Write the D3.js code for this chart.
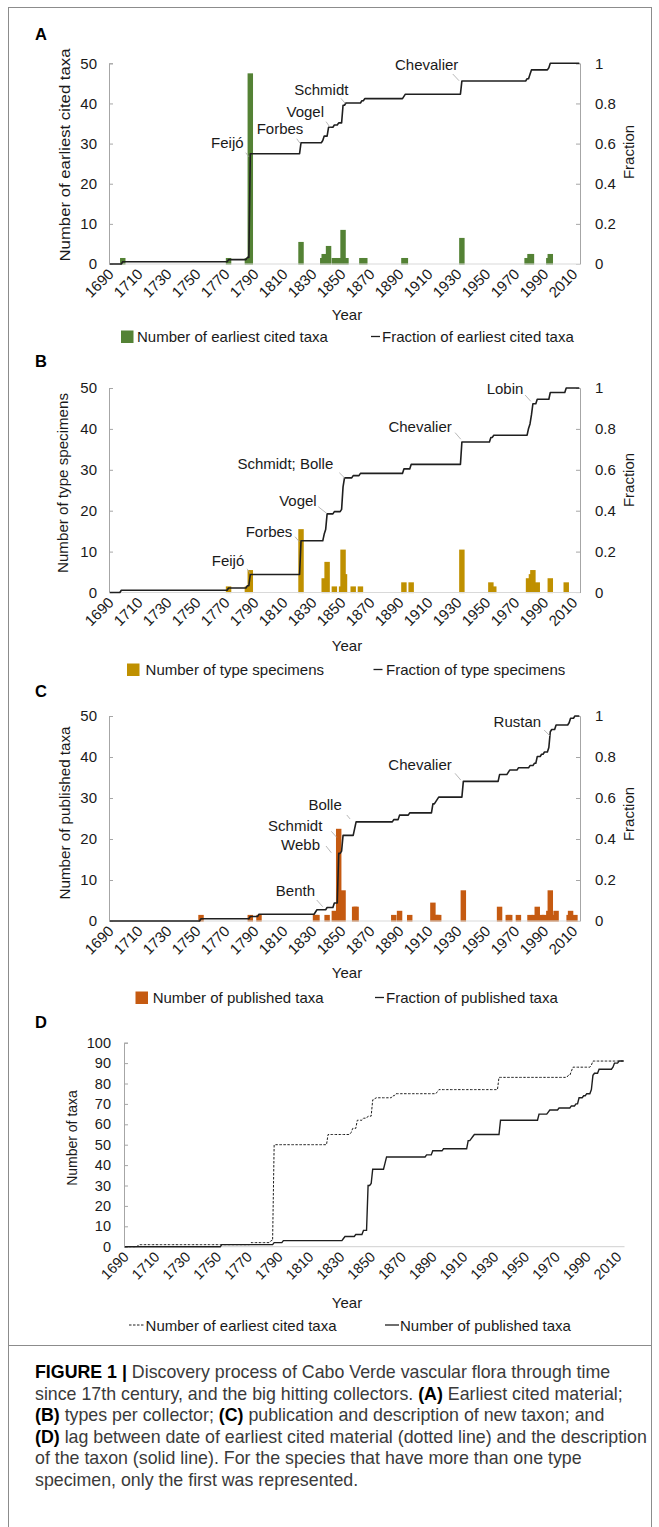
<!DOCTYPE html>
<html><head><meta charset="utf-8">
<script src="https://cdn.jsdelivr.net/npm/d3@7"></script>
<style>
body{margin:0;background:#fff;}
svg text{font-family:"Liberation Sans",Arial,sans-serif;fill:#1a1a1a;}
</style></head>
<body><svg id="fig" width="659" height="1527"></svg>
<script>
// ---------------- DATA ----------------
const firstYear = 1690, lastYear = 2014;
const xTickLabels = ["1690","1710","1730","1750","1770","1790","1810","1830","1850","1870","1890","1910","1930","1950","1970","1990","2010"];
const countTicks = [0,10,20,30,40,50];
const fractionTicks = [0,0.2,0.4,0.6,0.8,1];
const fractionTickLabels = ["0","0.2","0.4","0.6","0.8","1"];
const taxaTicks = [0,10,20,30,40,50,60,70,80,90,100];

// (A) earliest cited material, taxa per year
const earliestYears  = [1699,1772,1785,1787,1822,1837,1838,1841,1845,1848,1851,1853,1864,1866,1893,1894,1933,1978,1980,1981,1993,1994];
const earliestCounts = [1,   1,   1,   47,  5,   1,   2,   4,   1,   1,   8,   1,   1,   1,   1,   1,   6,   1,   2,   2,   1,   2];
// (B) type specimens per year (one early record shows in the fraction line only)
const typeYears  = [1772,1785,1787,1822,1838,1839,1840,1845,1850,1851,1852,1858,1863,1893,1898,1933,1953,1955,1979,1980,1981,1982,1985,1994,2005];
const typeCounts = [1,   1,   5,   15,  3,   2,   7,   1,   1,   10,  4,   1,   1,   2,   2,   10,  2,   1,   3,   2,   4,   5,   2,   3,   2];
const typeLineOnlyYears  = [1698];
const typeLineOnlyCounts = [1];
// (C) published taxa per year
const publishedYears  = [1753,1787,1793,1832,1833,1840,1845,1848,1850,1851,1859,1860,1886,1890,1897,1913,1915,1916,1917,1934,1959,1965,1966,1972,1980,1983,1985,1988,1990,1993,1994,1995,1998,2007,2008,2011];
const publishedCounts = [1,   1,   1,   1,   1,   1,   2,   22,  1,   7,   3,   3,   1,   2,   1,   4,   1,   1,   1,   7,   3,   1,   1,   1,   1,   1,   3,   1,   1,   2,   7,   1,   2,   1,   2,   1];

const earliestNotes  = ["Feijó","Forbes","Vogel","Schmidt","Chevalier"];
const earliestNoteYears = [1787,1822,1841,1853,1933];
const typeNotes  = ["Feijó","Forbes","Vogel","Schmidt; Bolle","Chevalier","Lobin"];
const typeNoteYears = [1787,1822,1840,1852,1933,1982];
const publishedNotes = ["Benth","Webb","Schmidt","Bolle","Chevalier","Rustan"];
const publishedNoteYears = [1837,1848,1848,1860,1934,1994];

const legendA = ["Number of earliest cited taxa","Fraction of earliest cited taxa"];
const legendB = ["Number of type specimens","Fraction of type specimens"];
const legendC = ["Number of published taxa","Fraction of published taxa"];
const legendD = ["Number of earliest cited taxa","Number of published taxa"];

// ---------------- LAYOUT ----------------
const svg = d3.select("#fig");
const C_GREEN="#548235", C_GOLD="#BF9000", C_ORANGE="#C55A11";
const AXIS="#a6a6a6", BASE="#d9d9d9", LINE="#1f1f1f";
const allYears = d3.range(firstYear, lastYear+1);

function cumulative(years, counts){
  const m = new Map();
  years.forEach((y,i)=>m.set(y,(m.get(y)||0)+counts[i]));
  let c=0; return allYears.map(y=>{c += (m.get(y)||0); return c;});
}

// frame
svg.append("rect").attr("x",8.5).attr("y",7.5).attr("width",643).attr("height",1530).attr("fill","none").attr("stroke","#8c8c8c").attr("stroke-width",1);
svg.append("line").attr("x1",8.5).attr("x2",651.5).attr("y1",1345.5).attr("y2",1345.5).attr("stroke","#8c8c8c");

function panel(cfg){
  const g = svg.append("g");
  const x = d3.scaleLinear().domain([firstYear-0.5,lastYear+0.5]).range([cfg.left,cfg.right]);
  const y = d3.scaleLinear().domain([0,50]).range([cfg.bottom,cfg.top]);
  const yf = d3.scaleLinear().domain([0,1]).range([cfg.bottom,cfg.top]);
  const bw = x(1)-x(0);
  g.append("text").attr("x",35).attr("y",cfg.letterY).attr("font-size",16.5).attr("font-weight","bold").style("fill","#000").text(cfg.letter);
  const la = d3.axisLeft(y).tickValues(countTicks).tickSize(-4).tickPadding(12);
  const lg = g.append("g").attr("transform",`translate(${cfg.left},0)`).call(la);
  lg.select(".domain").attr("stroke",AXIS);
  lg.selectAll(".tick line").attr("stroke",AXIS);
  lg.selectAll(".tick text").attr("font-size",15).style("fill","#1a1a1a");
  const ra = d3.axisRight(yf).tickValues(fractionTicks).tickFormat((d,i)=>fractionTickLabels[i]).tickSize(-4).tickPadding(15);
  const rg = g.append("g").attr("transform",`translate(${cfg.right},0)`).call(ra);
  rg.select(".domain").attr("stroke",AXIS);
  rg.selectAll(".tick line").attr("stroke",AXIS);
  rg.selectAll(".tick text").attr("font-size",15).style("fill","#1a1a1a");
  // bars: one-year columns with a thick outline of the same colour
  g.append("g").selectAll("rect").data(cfg.years.map((yr,i)=>({yr,c:cfg.counts[i]}))).join("rect")
    .attr("x",d=>x(d.yr)-bw/2).attr("width",bw)
    .attr("y",d=>y(d.c)).attr("height",d=>y(0)-y(d.c))
    .attr("fill",cfg.color).attr("stroke",cfg.color).attr("stroke-width",4);
  g.append("rect").attr("x",cfg.left-5).attr("y",y(0)+0.6).attr("width",cfg.right-cfg.left+10).attr("height",3).attr("fill","#fff");
  g.append("line").attr("x1",cfg.left).attr("x2",cfg.right).attr("y1",y(0)).attr("y2",y(0)).attr("stroke",BASE).attr("stroke-width",1.2);
  // cumulative fraction line
  const cum = cumulative(cfg.years.concat(cfg.extraYears||[]), cfg.counts.concat(cfg.extraCounts||[]));
  const total = cum[cum.length-1];
  const line = d3.line().x((d,i)=>x(allYears[i])).y(d=>yf(d/total));
  g.append("path").attr("d",line(cum)).attr("fill","none").attr("stroke",LINE).attr("stroke-width",1.6).attr("stroke-linejoin","round");
  xTickLabels.forEach(t=>{
    g.append("text").attr("transform",`translate(${x(+t)+5},${y(0)+11}) rotate(-45)`)
      .attr("text-anchor","end").attr("font-size",15).text(t);
  });
  g.append("text").attr("x",347).attr("y",cfg.yearY).attr("text-anchor","middle").attr("font-size",15).text("Year");
  g.append("text").attr("transform",`translate(${cfg.titleX},${cfg.titleCY}) rotate(-90)`).attr("text-anchor","middle")
    .attr("font-size",15).attr("textLength",cfg.titleLen).attr("lengthAdjust","spacingAndGlyphs").text(cfg.title);
  g.append("text").attr("transform",`translate(634,${cfg.fracCY}) rotate(-90)`).attr("text-anchor","middle").attr("font-size",15).text("Fraction");
  cfg.notes.forEach((n,i)=>{
    const yr = cfg.noteYears[i];
    const px = x(yr), py = yf(cum[yr-firstYear]/total);
    const o = cfg.noteOff[i];
    g.append("line").attr("x1",px+o[2]).attr("y1",py+o[3]).attr("x2",px+o[4]).attr("y2",py+o[5]).attr("stroke","#a6a6a6").attr("stroke-width",0.8);
    g.append("text").attr("x",px+o[0]).attr("y",py+o[1]).attr("text-anchor","end").attr("font-size",15).text(n);
  });
  const ly = cfg.legendY;
  g.append("rect").attr("x",cfg.legX[0]).attr("y",ly-11.5).attr("width",12.5).attr("height",12.5).attr("fill",cfg.color);
  g.append("text").attr("x",cfg.legX[1]).attr("y",ly).attr("font-size",15).text(cfg.legend[0]);
  g.append("line").attr("x1",cfg.legX[2]).attr("x2",cfg.legX[2]+9).attr("y1",ly-5.5).attr("y2",ly-5.5).attr("stroke",LINE).attr("stroke-width",1.3);
  g.append("text").attr("x",cfg.legX[3]).attr("y",ly).attr("font-size",15).text(cfg.legend[1]);
}

panel({letter:"A",letterY:39.5,left:109,right:580,top:63.3,bottom:264,color:C_GREEN,
  years:earliestYears,counts:earliestCounts,yearY:320,title:"Number of earliest cited taxa",titleX:70,titleCY:155,titleLen:213,fracCY:152,
  notes:earliestNotes,noteYears:earliestNoteYears,
  noteOff:[[-6.7,-5.7,-4.5,-1,-1.5,3],[2.3,-8.7,-4.3,-4,-1,0.6],[-4.5,-10,-2.5,-5.6,1.5,0],[2.5,-7.7,-5.1,-4.7,-0.8,0.3],[-3.5,-10.9,-9.1,-6.9,-2.8,-0.2]],
  legendY:342,legX:[121,137,371,382],legend:legendA});
panel({letter:"B",letterY:367,left:109,right:580,top:388,bottom:592.5,color:C_GOLD,
  years:typeYears,counts:typeCounts,extraYears:typeLineOnlyYears,extraCounts:typeLineOnlyCounts,
  yearY:651,title:"Number of type specimens",titleX:68,titleCY:483,titleLen:180,fracCY:480,
  notes:typeNotes,noteYears:typeNoteYears,
  noteOff:[[-6,-8.5,-3.3,-5.8,0,-1.2],[-8.7,-4.1,-6,-4.1,-1.7,0.9],[-10.4,-7.8,-8.8,-7.1,-0.4,-0.5],[-11.2,-8.9,-5.2,-5.2,0.5,0.4],[-10.1,-10.3,-6.8,-9.3,-1.1,-2.7],[-9.5,-9.7,-7.8,-8.7,-2.1,-2.4]],
  legendY:675,legX:[127,145.6,373.5,386],legend:legendB});
panel({letter:"C",letterY:697,left:109,right:580,top:716,bottom:921,color:C_ORANGE,
  years:publishedYears,counts:publishedCounts,yearY:978,title:"Number of published taxa",titleX:70,titleCY:813,titleLen:173,fracCY:814,
  notes:publishedNotes,noteYears:publishedNoteYears,
  noteOff:[[-7.7,-13.7,-6,-9.7,0,-3],[-18.7,-3.4,-12.7,-7.4,-7.4,-0.7],[-16.4,-22.7,-7.4,-22.1,-2,-16.1],[-14.3,-11.9,-9.3,-6.9,-6,-2.9],[-11.6,-11.3,-8.3,-8,-2.6,-1.3],[-9.2,-5.1,-6.2,-1.8,-0.2,4.2]],
  legendY:1003,legX:[135.5,152.7,375,386],legend:legendC});

// ---------------- PANEL D ----------------
(function(){
  const left=124,right=624.5,top=1042.7,bottom=1246.7;
  const g = svg.append("g");
  const x = d3.scaleLinear().domain([firstYear-0.5,lastYear+0.5]).range([left,right]);
  const y = d3.scaleLinear().domain([0,100]).range([bottom,top]);
  g.append("text").attr("x",35).attr("y",1028).attr("font-size",16.5).attr("font-weight","bold").style("fill","#000").text("D");
  const la = d3.axisLeft(y).tickValues(taxaTicks).tickSize(-4).tickPadding(13);
  const lg = g.append("g").attr("transform",`translate(${left},0)`).call(la);
  lg.select(".domain").attr("stroke",AXIS);
  lg.selectAll(".tick line").attr("stroke",AXIS);
  lg.selectAll(".tick text").attr("font-size",14.5).style("fill","#1a1a1a");
  g.append("line").attr("x1",left).attr("x2",right).attr("y1",y(0)).attr("y2",y(0)).attr("stroke",BASE).attr("stroke-width",1.2);
  const e = cumulative(earliestYears,earliestCounts), p = cumulative(publishedYears,publishedCounts);
  const line = d3.line().x((d,i)=>x(allYears[i])).y(d=>y(d));
  g.append("path").attr("d",line(e)).attr("fill","none").attr("stroke",LINE).attr("stroke-width",1).attr("stroke-dasharray","2.5,1.5");
  g.append("path").attr("d",line(p)).attr("fill","none").attr("stroke",LINE).attr("stroke-width",1.4);
  xTickLabels.forEach(t=>{
    g.append("text").attr("transform",`translate(${x(+t)+5},${y(0)+11}) rotate(-45)`).attr("text-anchor","end").attr("font-size",14.5).text(t);
  });
  g.append("text").attr("x",347).attr("y",1308).attr("text-anchor","middle").attr("font-size",15).text("Year");
  g.append("text").attr("transform",`translate(77,1138) rotate(-90)`).attr("text-anchor","middle").attr("font-size",14).text("Number of taxa");
  g.append("line").attr("x1",129).attr("x2",143.5).attr("y1",1325).attr("y2",1325).attr("stroke",LINE).attr("stroke-dasharray","2.5,1.5");
  g.append("text").attr("x",145.6).attr("y",1331).attr("font-size",15).text(legendD[0]);
  g.append("line").attr("x1",385).attr("x2",399).attr("y1",1325).attr("y2",1325).attr("stroke",LINE).attr("stroke-width",1.3);
  g.append("text").attr("x",400).attr("y",1331).attr("font-size",15).text(legendD[1]);
})();

// ---------------- CAPTION ----------------
const captionLines = [
  [["FIGURE 1 | ",true],["Discovery process of Cabo Verde vascular flora through time",false]],
  [["since 17th century, and the big hitting collectors. ",false],["(A)",true],[" Earliest cited material;",false]],
  [["(B)",true],[" types per collector; ",false],["(C)",true],[" publication and description of new taxon; and",false]],
  [["(D)",true],[" lag between date of earliest cited material (dotted line) and the description",false]],
  [["of the taxon (solid line). For the species that have more than one type",false]],
  [["specimen, only the first was represented.",false]]
];
const cap = svg.append("g");
captionLines.forEach((ln,i)=>{
  const t = cap.append("text").attr("x",35).attr("y",1378+i*21.6).attr("font-size",17.8);
  ln.forEach(([s,b])=>t.append("tspan").attr("font-weight",b?"bold":"normal").style("fill",b?"#000":"#3a3a3a").text(s));
});
</script></body></html>
